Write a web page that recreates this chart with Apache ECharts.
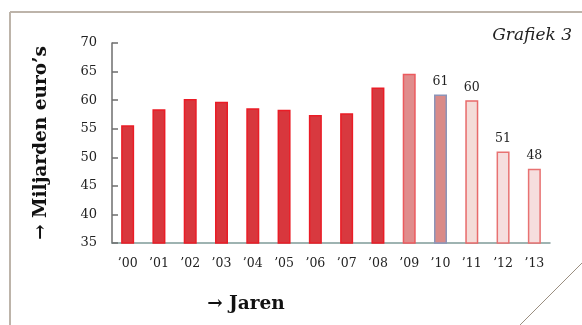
<!DOCTYPE html>
<html>
<head>
<meta charset="utf-8">
<script src="https://cdn.jsdelivr.net/npm/echarts@6/dist/echarts.min.js"></script>
<style>
  html, body { margin: 0; padding: 0; background: #fff; }
  #chart { width: 582px; height: 325px; }
</style>
</head>
<body>
<div id="chart"></div>
<script>
// Years on the category axis
const years = ['\u201900', '\u201901', '\u201902', '\u201903', '\u201904', '\u201905', '\u201906',
               '\u201907', '\u201908', '\u201909', '\u201910', '\u201911', '\u201912', '\u201913'];
// Amounts in billions of euros
const amounts = [55.6, 58.4, 60.2, 59.7, 58.6, 58.3, 57.4, 57.7, 62.2, 64.6, 61, 60, 51, 48];
// Which bars carry a value label
const labelled = [false, false, false, false, false, false, false, false, false, false, true, true, true, true];
// Y-axis tick values
const yTicks = [35, 40, 45, 50, 55, 60, 65, 70];

// Fill and outline per bar: solid red for realised years, paler for later ones
const fills = ['#d8373d', '#d8373d', '#d8373d', '#d8373d', '#d8373d', '#d8373d', '#d8393f',
               '#d8393f', '#d53a40', '#e08c8c', '#d98a88', '#f4dcd8', '#f6dede', '#f6dede'];
const edges = ['#ea1c26', '#ea1c26', '#ea1c26', '#ea1c26', '#ea1c26', '#ea1c26', '#ea1c26',
               '#ea1c26', '#ea1c26', '#ec5a5e', '#8c94b8', '#e86a6a', '#e87272', '#e87272'];

const serif = '"DejaVu Serif", "Liberation Serif", serif';
const chart = echarts.init(document.getElementById('chart'), null, { renderer: 'canvas' });

chart.setOption({
  animation: false,
  backgroundColor: '#ffffff',
  grid: { left: 112, right: 32, top: 43, bottom: 82, containLabel: false },
  xAxis: {
    type: 'category',
    data: years,
    axisLine: { lineStyle: { color: '#7f9a98', width: 1.5 } },
    axisTick: { show: false },
    axisLabel: { color: '#222', fontFamily: serif, fontSize: 12.5, margin: 14 },
    name: '\u2192 Jaren',
    nameLocation: 'middle',
    nameGap: 52,
    nameTextStyle: { color: '#111', fontFamily: serif, fontSize: 18.5, fontWeight: 'bold', padding: [0, 0, 0, -170] }
  },
  yAxis: {
    type: 'value',
    min: yTicks[0],
    max: yTicks[yTicks.length - 1],
    interval: 5,
    axisLine: { show: true, lineStyle: { color: '#6e6e6e', width: 1.5 } },
    axisTick: { show: true, inside: true, length: 6, lineStyle: { color: '#6e6e6e', width: 1.5 } },
    splitLine: { show: false },
    axisLabel: { color: '#222', fontFamily: serif, fontSize: 13, margin: 15 },
    name: '\u2192 Miljarden euro\u2019s',
    nameLocation: 'middle',
    nameGap: 61,
    nameRotate: 90,
    nameTextStyle: { color: '#111', fontFamily: serif, fontSize: 18.5, fontWeight: 'bold' }
  },
  series: [{
    type: 'bar',
    barWidth: 13,
    data: amounts.map((v, i) => ({
      value: v,
      itemStyle: { color: fills[i], borderColor: edges[i], borderWidth: 1.5 },
      label: {
        show: labelled[i],
        position: 'top',
        distance: 6,
        color: '#222',
        fontFamily: serif,
        fontSize: 12.5,
        formatter: () => String(Math.round(v))
      }
    }))
  }],
  graphic: [
    // page frame with a folded corner
    { type: 'line', shape: { x1: 10, y1: 12, x2: 582, y2: 12 }, style: { stroke: '#bdb4aa', lineWidth: 2 } },
    { type: 'line', shape: { x1: 10, y1: 12, x2: 10, y2: 325 }, style: { stroke: '#bdb4aa', lineWidth: 2 } },
    { type: 'line', shape: { x1: 520, y1: 325, x2: 582, y2: 263 }, style: { stroke: '#9a8e80', lineWidth: 1 } },
    { type: 'text', right: 10, top: 27,
      style: { text: 'Grafiek 3', fill: '#222', font: 'italic 17px ' + serif } }
  ]
});
</script>
</body>
</html>
